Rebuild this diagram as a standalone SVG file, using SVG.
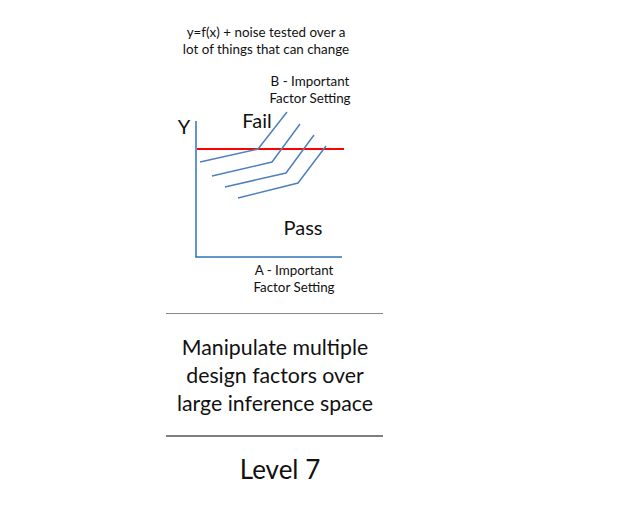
<svg xmlns="http://www.w3.org/2000/svg" width="637" height="524" viewBox="0 0 637 524">
<style>
text{font-family:Lato,"Open Sans","Liberation Sans",sans-serif;fill:#111;text-anchor:middle}
.s{font-size:13.4px}
.m{font-size:20px}
.b{font-size:21.3px}
.blue{stroke:#4f81bd;stroke-width:1.5;fill:none}
</style>
<rect width="637" height="524" fill="#fff"/>
<g id="title">
<text class="s" x="266" y="37">y=f(x) + noise tested over a</text>
<text class="s" x="266" y="54">lot of things that can change</text>
</g>
<g id="b-label">
<text class="s" x="310" y="86">B - Important</text>
<text class="s" x="310" y="103">Factor Setting</text>
</g>
<g id="axes">
<line x1="196" y1="121" x2="196" y2="257.5" stroke="#2e75b6" stroke-width="1.5"/>
<line x1="195.5" y1="257" x2="342" y2="257" stroke="#2e75b6" stroke-width="1.5"/>
<text class="m" x="184" y="134">Y</text>
<text class="m" x="257" y="128">Fail</text>
<text class="m" x="303" y="235">Pass</text>
</g>
<g id="threshold">
<line x1="197" y1="149" x2="344" y2="149" stroke="#ff0000" stroke-width="2"/>
</g>
<g id="curves">
<polyline class="blue" points="200,162 258,149 287,112"/>
<polyline class="blue" points="212,176 272,162 300,124"/>
<polyline class="blue" points="225,187 286,173 314,135"/>
<polyline class="blue" points="238,198 298,183 326,146"/>
</g>
<g id="a-label">
<text class="s" x="294" y="275">A - Important</text>
<text class="s" x="294" y="292">Factor Setting</text>
</g>
<line x1="166" y1="313.5" x2="383" y2="313.5" stroke="#888" stroke-width="1"/>
<g id="description">
<text class="b" x="275" y="355">Manipulate multiple</text>
<text class="b" x="275" y="383">design factors over</text>
<text class="b" x="275" y="411">large inference space</text>
</g>
<line x1="166" y1="436" x2="383" y2="436" stroke="#000" stroke-width="1.2"/>
<g id="level">
<text x="280" y="479" style="font-size:26px">Level 7</text>
</g>
</svg>
